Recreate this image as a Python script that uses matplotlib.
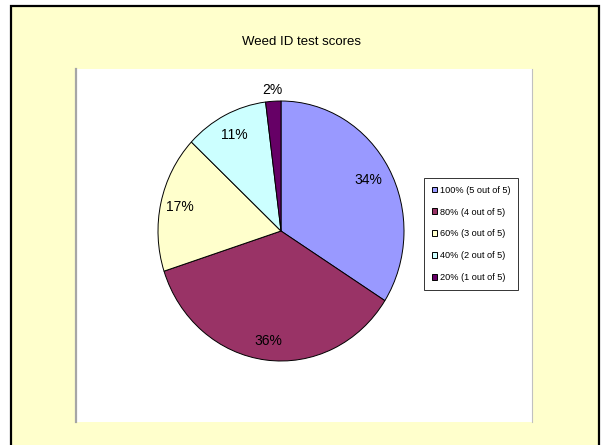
import numpy as np
import matplotlib
matplotlib.use("Agg")
import matplotlib.pyplot as plt
from matplotlib.patches import Rectangle
from matplotlib.lines import Line2D

plt.rcParams['font.family'] = ['Liberation Sans', 'DejaVu Sans']

# Data
categories = ["100% (5 out of 5)", "80% (4 out of 5)", "60% (3 out of 5)",
              "40% (2 out of 5)", "20% (1 out of 5)"]
shares = [34, 36, 17, 11, 2]
colors = ["#9999FF", "#993366", "#FFFFCC", "#CCFFFF", "#660066"]
label_radius = [0.81, 0.85, 0.84, 0.83, 1.09]  # how far out each % label sits

W, H = 602, 445
fig = plt.figure(figsize=(W / 100, H / 100), dpi=100, facecolor="white")

# yellow slide panel with black border
fig.patches.append(Rectangle((11 / W, -0.05), 588 / W, (H - 6) / H + 0.05,
                             transform=fig.transFigure, facecolor="#FFFFCC",
                             edgecolor="black", linewidth=1.6, zorder=0))
# white chart area
fig.patches.append(Rectangle((75 / W, (H - 422) / H), 457 / W, 353 / H,
                             transform=fig.transFigure, facecolor="white",
                             edgecolor="none", zorder=1))
fig.lines.append(Line2D([75.5 / W, 75.5 / W], [(H - 422) / H, (H - 69) / H],
                        transform=fig.transFigure, color="#A6A6A6", lw=1.6, zorder=2))
fig.lines.append(Line2D([532 / W, 532 / W], [(H - 422) / H, (H - 69) / H],
                        transform=fig.transFigure, color="#C0C0C0", lw=0.8, zorder=2))

fig.text(301 / W, 1 - 42 / H, "Weed ID test scores", ha="center", va="center",
         fontsize=9.5, color="black")

# pie axes covers the bounding box of the (slightly tall) pie
ax = fig.add_axes([158 / W, (H - 361) / H, 246 / W, 260 / H])
ax.set_zorder(3)
wedges, texts, autotexts = ax.pie(shares, colors=colors, startangle=90,
                                  counterclock=False, radius=1,
                                  autopct="%1.0f%%",
                                  wedgeprops=dict(edgecolor="black", linewidth=0.7),
                                  textprops=dict(fontsize=10, color="black"))
for w, t, r in zip(wedges, autotexts, label_radius):
    mid = np.deg2rad((w.theta1 + w.theta2) / 2)
    t.set_position((r * np.cos(mid), r * np.sin(mid)))
ax.set_aspect("auto")
ax.set_xlim(-1, 1)
ax.set_ylim(-1, 1)
ax.axis("off")

leg = fig.legend(wedges, categories, loc="upper left",
                 bbox_to_anchor=(424 / W, 1 - 178 / H), fontsize=6.6,
                 frameon=True, fancybox=False, edgecolor="black",
                 handlelength=0.6, handleheight=0.6, handletextpad=0.25,
                 labelspacing=1.4, borderpad=0.85, borderaxespad=0)
leg.get_frame().set_linewidth(0.7)
leg.set_zorder(4)

fig.savefig("out.png", dpi=100, facecolor="white")
